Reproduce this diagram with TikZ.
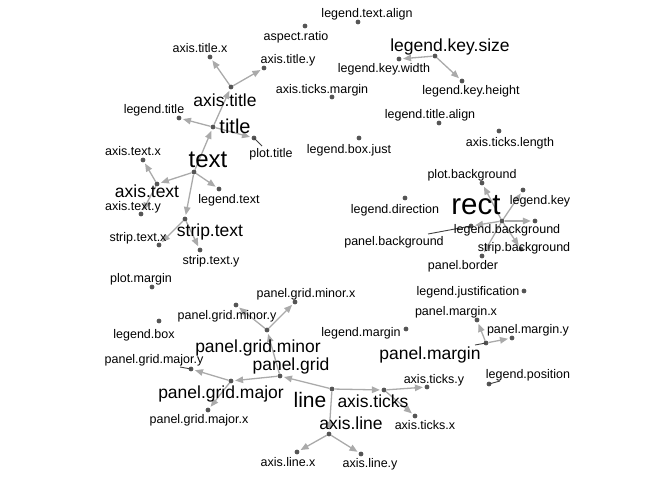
\documentclass[tikz,border=0pt]{standalone}
\usepackage{fontspec}
\setmainfont{Liberation Sans}
\usetikzlibrary{arrows.meta}

\definecolor{edgegray}{RGB}{170,170,170}
\definecolor{dotgray}{RGB}{85,85,85}

\begin{document}
\begin{tikzpicture}[
  x=1pt, y=-1pt,
  pt/.style={circle, fill=dotgray, inner sep=0pt, minimum size=4.8pt},
  lbl/.style={anchor=base, inner sep=0pt, font=\fontsize{12.5}{14}\selectfont},
  big/.style={lbl, font=\fontsize{17.5}{20}\selectfont},
  arrow/.style={-{Triangle[length=8pt, width=6.5pt]}, edgegray, line width=1.3pt, shorten >=1.5pt},
  seg/.style={black!75, line width=0.9pt}
]
\useasboundingbox (0,0) rectangle (672,480);

% Points
\node[pt] (aspect-ratio) at (305,26) {};
\node[pt] (axis-title-x) at (210,57) {};
\node[pt] (axis-title-y) at (264,68) {};
\node[pt] (axis-title) at (231,87) {};
\node[pt] (title) at (213,127) {};
\node[pt] (legend-title) at (179,118) {};
\node[pt] (plot-title) at (254,138) {};
\node[pt] (text) at (194,172) {};
\node[pt] (axis-text-x) at (143,160) {};
\node[pt] (axis-text) at (157,184) {};
\node[pt] (axis-text-y) at (141,214) {};
\node[pt] (legend-text) at (219,189) {};
\node[pt] (strip-text) at (185,219) {};
\node[pt] (strip-text-x) at (159,245) {};
\node[pt] (strip-text-y) at (200,250) {};
\node[pt] (plot-margin) at (152,287) {};
\node[pt] (legend-text-align) at (358,22) {};
\node[pt] (legend-key-size) at (435,56) {};
\node[pt] (legend-key-width) at (399,59) {};
\node[pt] (legend-key-height) at (462,81) {};
\node[pt] (axis-ticks-margin) at (332,97) {};
\node[pt] (legend-title-align) at (439,123) {};
\node[pt] (axis-ticks-length) at (499,131) {};
\node[pt] (legend-box-just) at (359,138) {};
\node[pt] (plot-background) at (482,183) {};
\node[pt] (legend-direction) at (405,198) {};
\node[pt] (rect) at (502,221) {};
\node[pt] (legend-key) at (523,190) {};
\node[pt] (legend-background) at (535,221) {};
\node[pt] (panel-background) at (471,226) {};
\node[pt] (strip-background) at (521,249) {};
\node[pt] (panel-border) at (482,256) {};
\node[pt] (legend-justification) at (524,291) {};
\node[pt] (panel-margin-x) at (477,320) {};
\node[pt] (panel-margin) at (486,343) {};
\node[pt] (panel-margin-y) at (512,338) {};
\node[pt] (legend-position) at (489,384) {};
\node[pt] (legend-margin) at (406,329) {};
\node[pt] (panel-grid-minor-x) at (295,302) {};
\node[pt] (panel-grid-minor-y) at (236,305) {};
\node[pt] (legend-box) at (159,321) {};
\node[pt] (panel-grid-minor) at (267,330) {};
\node[pt] (panel-grid) at (280,376) {};
\node[pt] (panel-grid-major-y) at (191,369) {};
\node[pt] (panel-grid-major) at (231,381) {};
\node[pt] (panel-grid-major-x) at (208,410) {};
\node[pt] (line) at (332,389) {};
\node[pt] (axis-ticks) at (384,390) {};
\node[pt] (axis-ticks-y) at (427,387) {};
\node[pt] (axis-ticks-x) at (415,416) {};
\node[pt] (axis-line) at (329,434) {};
\node[pt] (axis-line-x) at (297,452) {};
\node[pt] (axis-line-y) at (361,454) {};

% Arrows
\draw[arrow] (text) -- (title);
\draw[arrow] (text) -- (axis-text);
\draw[arrow] (text) -- (legend-text);
\draw[arrow] (text) -- (strip-text);
\draw[arrow] (title) -- (axis-title);
\draw[arrow] (title) -- (legend-title);
\draw[arrow] (title) -- (plot-title);
\draw[arrow] (axis-title) -- (axis-title-x);
\draw[arrow] (axis-title) -- (axis-title-y);
\draw[arrow] (axis-text) -- (axis-text-x);
\draw[arrow] (axis-text) -- (axis-text-y);
\draw[arrow] (strip-text) -- (strip-text-x);
\draw[arrow] (strip-text) -- (strip-text-y);
\draw[arrow] (legend-key-size) -- (legend-key-width);
\draw[arrow] (legend-key-size) -- (legend-key-height);
\draw[arrow] (rect) -- (plot-background);
\draw[arrow] (rect) -- (legend-key);
\draw[arrow] (rect) -- (legend-background);
\draw[arrow] (rect) -- (panel-background);
\draw[arrow] (rect) -- (strip-background);
\draw[arrow] (rect) -- (panel-border);
\draw[arrow] (panel-margin) -- (panel-margin-x);
\draw[arrow] (panel-margin) -- (panel-margin-y);
\draw[arrow] (line) -- (panel-grid);
\draw[arrow] (line) -- (axis-ticks);
\draw[arrow] (line) -- (axis-line);
\draw[arrow] (panel-grid) -- (panel-grid-major);
\draw[arrow] (panel-grid) -- (panel-grid-minor);
\draw[arrow] (panel-grid-minor) -- (panel-grid-minor-x);
\draw[arrow] (panel-grid-minor) -- (panel-grid-minor-y);
\draw[arrow] (panel-grid-major) -- (panel-grid-major-y);
\draw[arrow] (panel-grid-major) -- (panel-grid-major-x);
\draw[arrow] (axis-ticks) -- (axis-ticks-y);
\draw[arrow] (axis-ticks) -- (axis-ticks-x);
\draw[arrow] (axis-line) -- (axis-line-x);
\draw[arrow] (axis-line) -- (axis-line-y);

% Label pointers
\coordinate (plot-title-end) at (262,146);
\coordinate (panel-background-end) at (428,234);
\coordinate (panel-margin-end) at (475,345);
\coordinate (legend-position-end) at (500,381);
\coordinate (panel-grid-major-y-end) at (180,367);
\draw[seg] (plot-title-end) -- (plot-title.center);
\draw[seg] (panel-background-end) -- (panel-background.center);
\draw[seg] (panel-margin-end) -- (panel-margin.center);
\draw[seg] (legend-position-end) -- (legend-position.center);
\draw[seg] (panel-grid-major-y-end) -- (panel-grid-major-y.center);

% Labels
\node[lbl] (l-aspect-ratio) at (296,40) {aspect.ratio};
\node[lbl] (l-axis-title-x) at (200,52) {axis.title.x};
\node[lbl] (l-axis-title-y) at (288,63) {axis.title.y};
\node[big] (l-axis-title) at (225,106) {axis.title};
\node[lbl] (l-legend-title) at (154,113) {legend.title};
\node[big, font=\fontsize{20}{22}\selectfont] (l-title) at (235,133) {title};
\node[lbl] (l-plot-title) at (271,157) {plot.title};
\node[lbl] (l-axis-text-x) at (133,155) {axis.text.x};
\node[big, font=\fontsize{24}{26}\selectfont] (l-text) at (208,167) {text};
\node[big] (l-axis-text) at (147,197) {axis.text};
\node[lbl] (l-legend-text) at (229,203) {legend.text};
\node[lbl] (l-axis-text-y) at (133,210) {axis.text.y};
\node[big] (l-strip-text) at (210,236) {strip.text};
\node[lbl] (l-strip-text-x) at (138,241) {strip.text.x};
\node[lbl] (l-strip-text-y) at (211,264) {strip.text.y};
\node[lbl] (l-plot-margin) at (141,282) {plot.margin};
\node[lbl] (l-legend-text-align) at (367,17) {legend.text.align};
\node[big] (l-legend-key-size) at (450,51) {legend.key.size};
\node[lbl] (l-legend-key-width) at (384,72) {legend.key.width};
\node[lbl] (l-legend-key-height) at (471,94) {legend.key.height};
\node[lbl] (l-axis-ticks-margin) at (322,93) {axis.ticks.margin};
\node[lbl] (l-legend-title-align) at (430,118) {legend.title.align};
\node[lbl] (l-axis-ticks-length) at (510,146) {axis.ticks.length};
\node[lbl] (l-legend-box-just) at (349,153) {legend.box.just};
\node[lbl] (l-plot-background) at (472,178) {plot.background};
\node[lbl] (l-legend-direction) at (395,213) {legend.direction};
\node[big, font=\fontsize{29.5}{32}\selectfont] (l-rect) at (476,214) {rect};
\node[lbl] (l-legend-key) at (540,204) {legend.key};
\node[lbl] (l-legend-background) at (507,233) {legend.background};
\node[lbl] (l-panel-background) at (394,245) {panel.background};
\node[lbl] (l-strip-background) at (524,251) {strip.background};
\node[lbl] (l-panel-border) at (463,269) {panel.border};
\node[lbl] (l-legend-justification) at (468,295) {legend.justification};
\node[lbl] (l-panel-margin-x) at (456,315) {panel.margin.x};
\node[lbl] (l-panel-margin-y) at (528,333) {panel.margin.y};
\node[big] (l-panel-margin) at (430,359) {panel.margin};
\node[lbl] (l-legend-position) at (528,378) {legend.position};
\node[lbl] (l-axis-ticks-y) at (434,383) {axis.ticks.y};
\node[lbl] (l-legend-margin) at (361,336) {legend.margin};
\node[lbl] (l-panel-grid-minor-x) at (306,297) {panel.grid.minor.x};
\node[lbl] (l-panel-grid-minor-y) at (227,319) {panel.grid.minor.y};
\node[lbl] (l-legend-box) at (144,338) {legend.box};
\node[big] (l-panel-grid-minor) at (258,352) {panel.grid.minor};
\node[big] (l-panel-grid) at (291,370) {panel.grid};
\node[lbl] (l-panel-grid-major-y) at (154,363) {panel.grid.major.y};
\node[big] (l-panel-grid-major) at (221,398) {panel.grid.major};
\node[lbl] (l-panel-grid-major-x) at (199,423) {panel.grid.major.x};
\node[big, font=\fontsize{21}{23}\selectfont] (l-line) at (310,407) {line};
\node[big] (l-axis-ticks) at (373,407) {axis.ticks};
\node[lbl] (l-axis-ticks-x) at (425,429) {axis.ticks.x};
\node[big] (l-axis-line) at (351,429) {axis.line};
\node[lbl] (l-axis-line-x) at (288,466) {axis.line.x};
\node[lbl] (l-axis-line-y) at (370,467) {axis.line.y};

\end{tikzpicture}
\end{document}
